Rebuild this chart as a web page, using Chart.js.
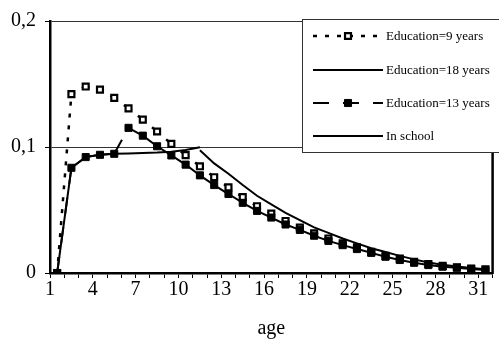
<!DOCTYPE html>
<html>
<head>
<meta charset="utf-8">
<script src="https://cdn.jsdelivr.net/npm/chart.js@4/dist/chart.umd.min.js"></script>
<style>
  html, body { margin: 0; padding: 0; background: #fff; }
  canvas { display: block; }
</style>
</head>
<body>
<canvas id="chart" width="499" height="341"></canvas>
<script>
// Age categories (x axis)
const ages = ['1','2','3','4','5','6','7','8','9','10','11','12','13','14','15','16',
              '17','18','19','20','21','22','23','24','25','26','27','28','29','30','31'];

// Hazard by age for each group
const edu9 = [0, 0.142, 0.148, 0.1455, 0.139, 0.1307, 0.1217, 0.1123, 0.1025, 0.0935,
              0.0847, 0.076, 0.068, 0.0602, 0.053, 0.0472, 0.0413, 0.0361, 0.0314, 0.0274,
              0.0235, 0.0203, 0.0168, 0.0136, 0.0114, 0.0089, 0.0071, 0.0056, 0.0045, 0.0035, 0.0029];

const edu18 = [null, null, null, null, null, null, null, null, null, null,
               0.0975, 0.087, 0.0788, 0.0698, 0.0613, 0.0545, 0.0478, 0.0419, 0.0362, 0.0318,
               0.0274, 0.0235, 0.0197, 0.0167, 0.0136, 0.0108, 0.0083, 0.0066, 0.0051, 0.004, 0.003];

const edu13 = [0, 0.0835, 0.092, 0.0938, 0.0946, 0.1152, 0.109, 0.1006, 0.0933, 0.086,
               0.0775, 0.0698, 0.0627, 0.0557, 0.0493, 0.044, 0.0385, 0.0342, 0.0296, 0.0255,
               0.0221, 0.019, 0.016, 0.0129, 0.0103, 0.0081, 0.0063, 0.005, 0.0042, 0.0032, 0.0024];

const inSchool = [0, 0.0835, 0.092, 0.0938, 0.0946, 0.0949, 0.0952, 0.0956, 0.0963, 0.0976,
                  0.0998, null, null, null, null, null, null, null, null, null,
                  null, null, null, null, null, null, null, null, null, null, null];

// Y axis ticks and their printed labels (decimal comma)
const yTicks = [0, 0.1, 0.2];
const yTickLabels = ['0', '0,1', '0,2'];

// Show every third age under the axis
const xLabelStep = 3;

const SERIF = "'Liberation Serif', 'Times New Roman', serif";

// Restart the dash pattern at every data point, so each segment begins with a dash
function dashPerSegment(pattern) {
  const period = pattern.reduce((a, b) => a + b, 0);
  return { borderDashOffset: c => c.p0DataIndex * period };
}

const dash9 = [4, 8];
const dash13 = [16, 14];

const datasets = [
  {
    label: 'Education=9 years',
    data: edu9,
    borderColor: '#000',
    borderWidth: 2.5,
    borderDash: dash9,
    segment: dashPerSegment(dash9),
    pointStyle: 'rect',
    pointRadius: 4.2,
    pointBorderWidth: 2.2,
    pointBackgroundColor: '#fff',
    pointBorderColor: '#000',
    order: 1
  },
  {
    label: 'Education=18 years',
    data: edu18,
    borderColor: '#000',
    borderWidth: 2,
    pointRadius: 0,
    order: 2
  },
  {
    label: 'Education=13 years',
    data: edu13,
    borderColor: '#000',
    borderWidth: 2,
    borderDash: dash13,
    segment: dashPerSegment(dash13),
    pointStyle: 'rect',
    pointRadius: 5,
    pointBorderWidth: 1,
    pointBackgroundColor: '#000',
    pointBorderColor: '#000',
    order: 0
  },
  {
    label: 'In school',
    data: inSchool,
    borderColor: '#000',
    borderWidth: 2,
    pointRadius: 0,
    order: 3
  }
];

// Thick right edge of the plot area
const plotFrame = {
  id: 'plotFrame',
  beforeDatasetsDraw(chart) {
    const { ctx, chartArea: a } = chart;
    ctx.save();
    ctx.strokeStyle = '#000';
    ctx.lineWidth = 2.5;
    ctx.beginPath();
    ctx.moveTo(a.right, a.top);
    ctx.lineTo(a.right, a.bottom + 1);
    ctx.stroke();
    ctx.restore();
  }
};

// Boxed legend in the upper right corner: line sample, marker, then label
const boxLegend = {
  id: 'boxLegend',
  afterDraw(chart) {
    const { ctx } = chart;
    const box = { x: 302.5, y: 19.5, w: 200, h: 133 };
    const rows = [36, 70, 103, 136];
    const lineX0 = 313, lineX1 = 383, textX = 386;
    ctx.save();
    ctx.fillStyle = '#fff';
    ctx.fillRect(box.x, box.y, box.w, box.h);
    ctx.strokeStyle = '#333';
    ctx.lineWidth = 1;
    ctx.strokeRect(box.x, box.y, box.w, box.h);

    chart.data.datasets.forEach((ds, i) => {
      const y = rows[i];
      ctx.save();
      ctx.strokeStyle = ds.borderColor;
      ctx.lineWidth = ds.borderWidth;
      ctx.setLineDash(ds.borderDash || []);
      ctx.beginPath();
      ctx.moveTo(lineX0, y);
      ctx.lineTo(lineX1, y);
      ctx.stroke();
      ctx.restore();
      if (ds.pointRadius > 0) {
        ctx.save();
        ctx.fillStyle = ds.pointBackgroundColor;
        ctx.strokeStyle = ds.pointBorderColor;
        ctx.lineWidth = ds.pointBorderWidth;
        Chart.helpers.drawPoint(ctx, {
          pointStyle: ds.pointStyle,
          radius: ds.pointRadius,
          borderWidth: ds.pointBorderWidth,
          rotation: 0
        }, (lineX0 + lineX1) / 2, y);
        ctx.restore();
      }
      ctx.fillStyle = '#000';
      ctx.font = '13px ' + SERIF;
      ctx.textAlign = 'left';
      ctx.textBaseline = 'middle';
      ctx.fillText(ds.label, textX, y + 0.5);
    });
    ctx.restore();
  }
};

new Chart(document.getElementById('chart'), {
  type: 'line',
  data: { labels: ages, datasets },
  options: {
    responsive: false,
    animation: false,
    devicePixelRatio: 1,
    layout: { padding: { top: 20, right: 2, left: 0, bottom: 0 } },
    elements: { line: { tension: 0, fill: false } },
    plugins: {
      legend: { display: false },
      tooltip: { enabled: false }
    },
    scales: {
      x: {
        type: 'category',
        offset: true,
        grid: {
          offset: true,
          drawOnChartArea: false,
          drawTicks: true,
          tickLength: 5,
          tickColor: '#000',
          lineWidth: 1
        },
        border: { display: true, color: '#000', width: 2.5 },
        ticks: {
          autoSkip: false,
          maxRotation: 0,
          minRotation: 0,
          labelOffset: -7.2,
          padding: 0,
          color: '#000',
          font: { family: SERIF, size: 20 },
          callback: (v, i) => (i % xLabelStep === 0 ? ages[i] : '')
        },
        title: {
          display: true,
          text: 'age',
          color: '#000',
          font: { family: SERIF, size: 20 },
          padding: { top: 0, bottom: 0 }
        },
        afterFit: s => { s.height = 68; }
      },
      y: {
        type: 'linear',
        min: 0,
        max: 0.2,
        afterBuildTicks: s => { s.ticks = yTicks.map(v => ({ value: v })); },
        grid: {
          color: '#333',
          lineWidth: 1,
          drawTicks: true,
          tickLength: 5,
          tickColor: '#000'
        },
        border: { display: true, color: '#000', width: 2.5 },
        ticks: {
          color: '#000',
          padding: 9,
          font: { family: SERIF, size: 20 },
          callback: (v, i) => yTickLabels[i]
        },
        afterFit: s => { s.width = 50; }
      }
    }
  },
  plugins: [plotFrame, boxLegend]
});
</script>
</body>
</html>
